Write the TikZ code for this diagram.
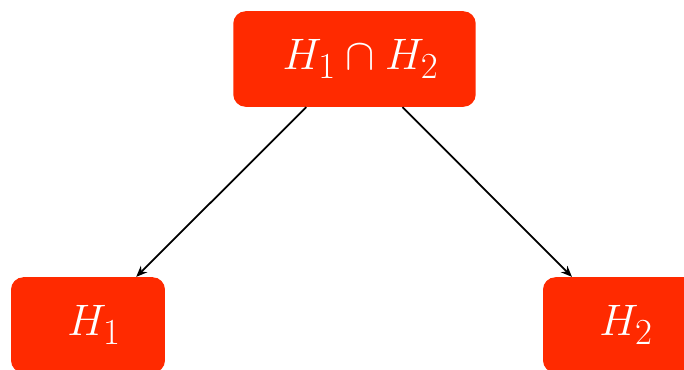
\documentclass[tikz,border=0pt]{standalone}
\usepackage{amsmath,amssymb}
\usepackage{xcolor}
\usetikzlibrary{arrows.meta,positioning}
\definecolor{setred}{RGB}{255,42,0}

\begin{document}
\begin{tikzpicture}[
    x=0.565pt, y=-0.565pt,
    set/.style={rectangle, fill=setred, rounded corners=7pt, text=white, font=\Huge, minimum height=54pt, inner sep=0pt},
    arrow/.style={-{Stealth[length=2.2mm, width=1.8mm]}, line width=1pt}
]
\useasboundingbox (0,0) rectangle (684,369);
\clip (0,0) rectangle (684,369);
\node[set, minimum width=137pt] (inter) at (354.5,59) {$\;H_1\cap H_2$};
\node[set, minimum width=87pt] (hone) at (88,325) {$\;H_1$};
\node[set, minimum width=87pt] (htwo) at (620,325) {$\;H_2$};
\draw[arrow] (inter) -- (hone);
\draw[arrow] (inter) -- (htwo);
\end{tikzpicture}
\end{document}
